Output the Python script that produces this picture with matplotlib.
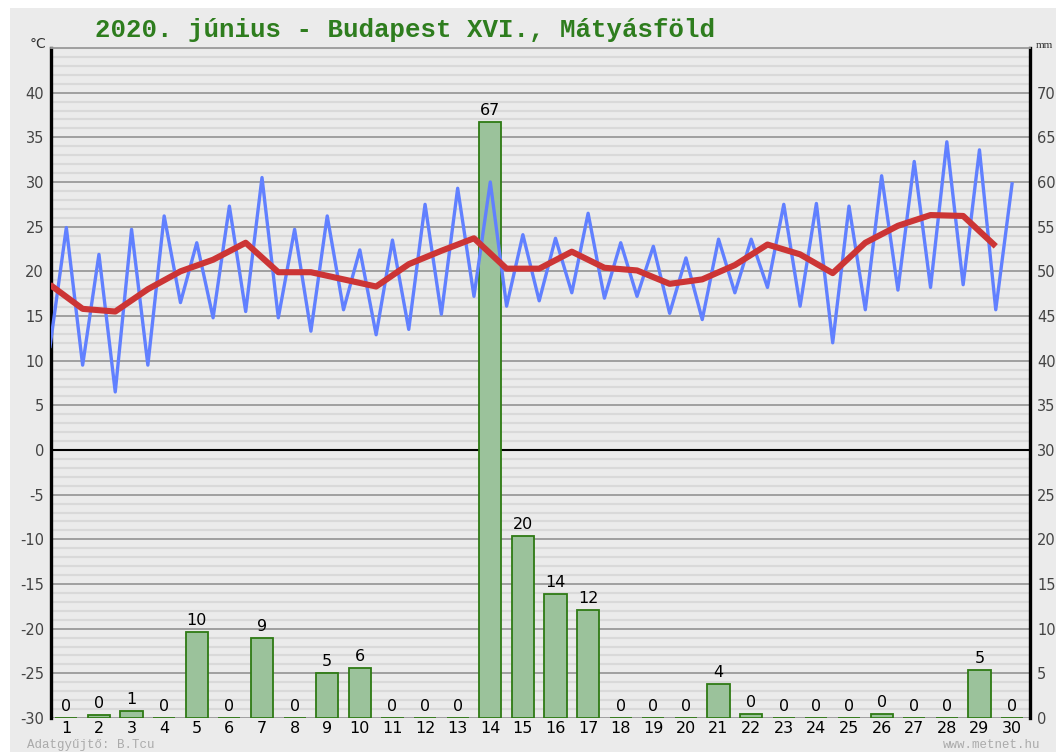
import numpy as np
import matplotlib
matplotlib.use('Agg')
import matplotlib.pyplot as plt
from matplotlib.patches import Rectangle

plt.rcParams['axes.unicode_minus'] = False

# June 2020, Budapest XVI. - daily values
days = np.arange(1, 31)
# night minimum (plotted half a day before), day maximum, daily mean
t_min = [11.6, 9.5, 6.5, 9.5, 16.5, 14.8, 15.5, 14.8, 13.3, 15.7,
         12.9, 13.5, 15.2, 17.2, 16.1, 16.7, 17.6, 17.0, 17.2, 15.3,
         14.6, 17.6, 18.2, 16.1, 12.0, 15.7, 17.9, 18.2, 18.5, 15.7]
t_max = [24.9, 21.9, 24.7, 26.2, 23.2, 27.3, 30.5, 24.7, 26.2, 22.4,
         23.5, 27.5, 29.3, 30.0, 24.1, 23.7, 26.5, 23.2, 22.8, 21.5,
         23.6, 23.6, 27.5, 27.6, 27.3, 30.7, 32.3, 34.5, 33.6, 29.8]
t_mean = [18.5, 15.8, 15.5, 18.0, 20.0, 21.3, 23.2, 19.9, 19.9, 19.1,
          18.3, 20.8, 22.3, 23.7, 20.3, 20.3, 22.2, 20.4, 20.1, 18.6,
          19.1, 20.7, 23.0, 21.9, 19.8, 23.2, 25.1, 26.3, 26.2, 22.8]
precip = [0, 0.3, 0.8, 0, 9.6, 0, 8.9, 0, 5.0, 5.6,
          0, 0, 0, 66.7, 20.4, 13.9, 12.1, 0, 0, 0,
          3.8, 0.4, 0, 0, 0, 0.4, 0, 0, 5.4, 0]

bg = '#ebebeb'
fig = plt.figure(figsize=(10.56, 7.52), dpi=100, facecolor='white')
fig.patches.append(Rectangle((10 / 1056, 0), 1, 1 - 8 / 752, transform=fig.transFigure,
                             facecolor=bg, edgecolor='none', zorder=-10))

ax = fig.add_axes([51 / 1056, 1 - 718 / 752, (1030 - 51) / 1056, (718 - 48) / 752])
ax.set_facecolor(bg)
ax2 = ax.twinx()

# precipitation bars on the mm axis (drawn first, lines go on top)
ax.set_xlim(0.53, 30.55)
ax.set_ylim(0, 75)
ax.set_axisbelow(True)
ax.set_yticks(np.arange(0, 75, 5))
ax.set_yticks(np.arange(0, 76, 1), minor=True)
ax.grid(which='minor', axis='y', color='#d9d9d9', lw=1.6)
ax.grid(which='major', axis='y', color='#9a9a9a', lw=1.3)
ax.axhline(30, color='black', lw=1.5, zorder=1.5)
bars = ax.bar(days, precip, width=0.68, color='#9bc29b', edgecolor='#2e7a14', lw=1.3, zorder=2)
ax.bar_label(bars, labels=[f'{p:.0f}' for p in precip], padding=3, fontsize=11.5, color='black')

ax.yaxis.tick_right()
ax.tick_params(axis='y', which='both', length=0, pad=5, labelsize=10.5, labelcolor='#444444')
ax.set_xticks(days)
ax.set_xticklabels([str(d) for d in days])
ax.tick_params(axis='x', length=0, pad=2, labelsize=11.5, labelcolor='black')
for side in ['left', 'right']:
    ax.spines[side].set_linewidth(2.4)
    ax.spines[side].set_color('black')
ax.spines['top'].set_color('#9a9a9a')
ax.spines['top'].set_linewidth(1.3)
ax.spines['bottom'].set_visible(False)

# temperature on the degree axis
ax2.set_ylim(-30, 45)
ax2.set_yticks(np.arange(-30, 41, 5))
ax2.yaxis.tick_left()
ax2.tick_params(axis='y', length=0, pad=5, labelsize=10.5, labelcolor='#444444')
for s in ax2.spines.values():
    s.set_visible(False)

x_half = np.ravel(np.column_stack([days - 0.5, days]))
t_zigzag = np.ravel(np.column_stack([t_min, t_max]))
ax2.plot(x_half, t_zigzag, color='#6180ff', lw=2.4, zorder=3)
ax2.plot(days - 0.5, t_mean, color='#cc3535', lw=4.4, zorder=4, solid_capstyle='butt')

fig.text(95 / 1056, 1 - 30 / 752, '2020. június - Budapest XVI., Mátyásföld',
         fontfamily='Liberation Mono', fontweight='bold', fontsize=18.5,
         color='#2e7d1e', ha='left', va='center')
fig.text(38 / 1056, 1 - 44 / 752, '°C', fontsize=10, color='#333333', ha='center', va='center')
fig.text(1036 / 1056, 1 - 46 / 752, 'mm', fontfamily='Liberation Serif', fontsize=8,
         color='#333333', ha='left', va='center')
fig.text(27 / 1056, 1 - 751 / 752, 'Adatgyűjtő: B.Tcu', fontfamily='Liberation Mono',
         fontsize=9, color='#aaaaaa', ha='left', va='bottom')
fig.text(1040 / 1056, 1 - 751 / 752, 'www.metnet.hu', fontfamily='Liberation Mono',
         fontsize=9, color='#aaaaaa', ha='right', va='bottom')

fig.savefig('out.png', dpi=100, facecolor=fig.get_facecolor())
